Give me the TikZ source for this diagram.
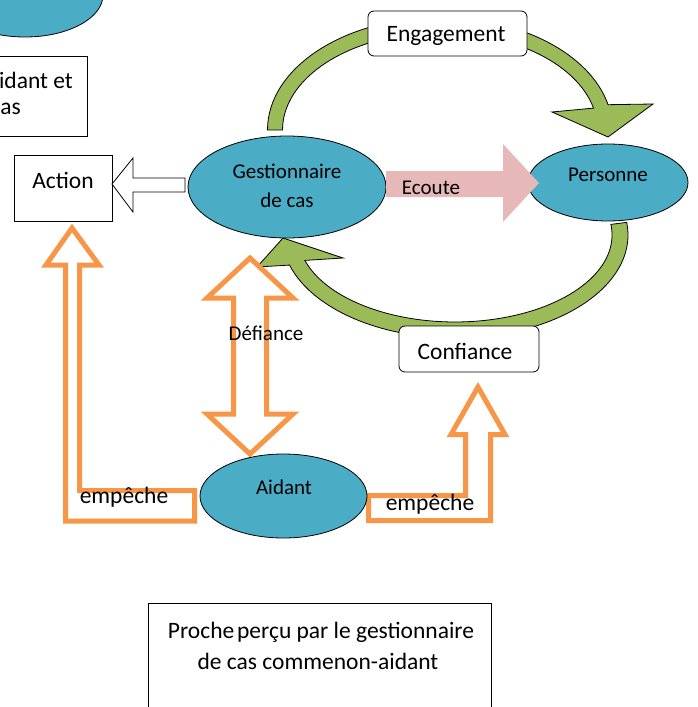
\documentclass[tikz,border=0pt]{standalone}
\usepackage{fontspec}
\setmainfont{Carlito}
\usetikzlibrary{shapes.geometric}
\definecolor{tealc}{HTML}{4BACC6}
\definecolor{grn}{HTML}{9BBB59}
\definecolor{org}{HTML}{F79646}
\definecolor{pnk}{HTML}{E6B9B8}
\begin{document}
\begin{tikzpicture}[x=1pt,y=-1pt,
  big/.style={font=\fontsize{23.5}{28}\selectfont,inner sep=0pt},
  small/.style={font=\fontsize{21}{26}\selectfont,inner sep=0pt},
  oval/.style={ellipse,draw=black,line width=0.8pt,fill=tealc,inner sep=0pt},
  plainbox/.style={draw=black,line width=0.8pt,fill=white},
  roundbox/.style={draw=black,line width=0.8pt,fill=white,rounded corners=6pt},
  band/.style={draw=black,line width=0.8pt,fill=grn},
  hollow/.style={draw=org,line width=5pt,fill=white,line join=miter},
]
\useasboundingbox (0,0) rectangle (697,707);
% partial top-left ellipse
\fill[tealc,draw=black,line width=0.8pt] (25,-5) ellipse[x radius=78,y radius=42];
% partial top-left box
\draw[plainbox] (-10,56) rectangle (87,136);
\node[big,anchor=east] (t1) at (73,80) {idant et};
\node[big,anchor=east] (t2) at (21,109) {as};
% green bands
\path[band] (267.5,130) arc[start angle=180,end angle=347,x radius=172.5,y radius=112.5]
  -- (653,104) -- (608,137) -- (552,112) -- (593.5,108.1)
  arc[start angle=347,end angle=180,x radius=157.5,y radius=97.5] -- cycle;
\path[band] (626.7,222.4) arc[start angle=-7,end angle=163,x radius=173,y radius=103]
  -- (257,267) -- (283,238) -- (343,258) -- (304.9,260.4)
  arc[start angle=163,end angle=-7,x radius=157,y radius=87] -- cycle;
% ellipses
\node[oval,minimum width=198pt,minimum height=102pt] (g) at (287,187) {};
\node[small] at (287,171) {Gestionnaire};
\node[small] at (287,200) {de cas};
\node[oval,minimum width=160pt,minimum height=77pt] (p) at (608,182.5) {};
\node[small] at (608,175) {Personne};
% Ecoute arrow
\fill[pnk] (386,171) -- (503,171) -- (503,144) -- (539,183) -- (503,222) -- (503,197) -- (386,197) -- cycle;
\node[small] (ec) at (431,188) {Ecoute};
% Action box and arrow
\node[plainbox,minimum width=98pt,minimum height=66pt,inner sep=0pt] (act) at (63,188) {};
\node[big] at (63,180) {Action};
\draw[line width=0.8pt,fill=white] (112,184) -- (133,158) -- (133,178) -- (185,178) -- (185,192) -- (133,192) -- (133,212) -- cycle;
% rounded boxes
\node[roundbox,minimum width=159pt,minimum height=45pt,inner sep=0pt] (eng) at (447.5,33.5) {};
\node[big] at (446,36) {Engagement};
\node[roundbox,minimum width=140pt,minimum height=46pt,inner sep=0pt] (conf) at (469,349) {};
\node[big] at (465,351) {Confiance};
% Defiance double arrow
\draw[hollow] (250,258) -- (293,298) -- (266.5,298) -- (266.5,414) -- (293,414) -- (250,454)
  -- (207,414) -- (233.5,414) -- (233.5,298) -- (207,298) -- cycle;
\node[small] (def) at (266,333) {Défiance};
% left empeche L arrow
\draw[hollow] (72,228) -- (99,265) -- (79.5,265) -- (79.5,490.5) -- (194.5,490.5) -- (194.5,521)
  -- (65.5,521) -- (65.5,265) -- (46,265) -- cycle;
\node[big] (e1) at (124,497) {empêche};
% right empeche arrow
\draw[hollow] (478,387) -- (505,434.5) -- (490.5,434.5) -- (490.5,520.5) -- (368.5,520.5)
  -- (368.5,495.5) -- (465.5,495.5) -- (465.5,434.5) -- (451,434.5) -- cycle;
\node[big] (e2) at (430,504) {empêche};
% Aidant
\node[oval,minimum width=167pt,minimum height=84pt] (a) at (283.5,496) {};
\node[small] at (284,487) {Aidant};
% bottom box
\draw[plainbox] (148,603) rectangle (491,720);
\node[big] (b1) at (321,632) {Proche\hspace{0.12em}perçu par le gestionnaire};
\node[big] (b2) at (318,661) {de cas commenon-aidant};
\end{tikzpicture}
\end{document}
